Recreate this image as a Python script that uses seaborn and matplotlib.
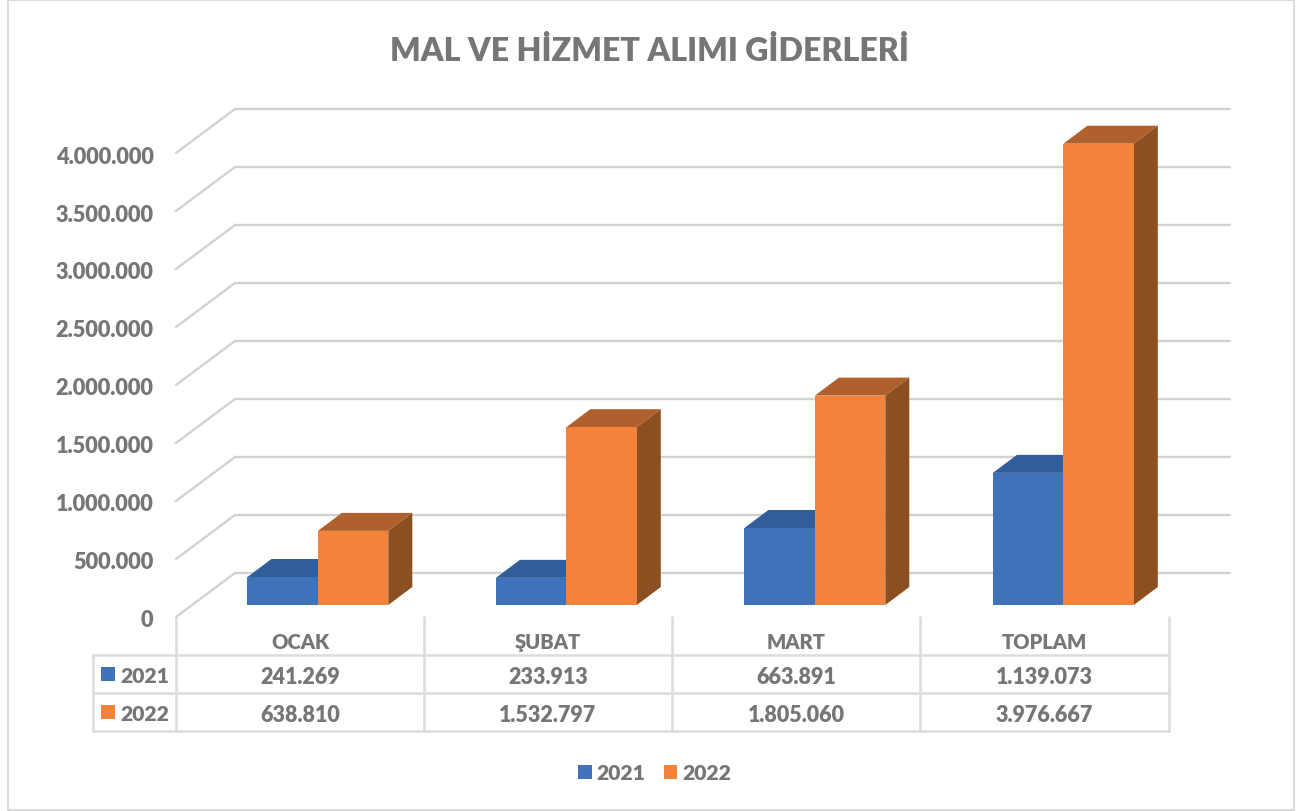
import matplotlib
matplotlib.use('Agg')
import matplotlib.pyplot as plt
import pandas as pd
import seaborn as sns
from matplotlib.patches import Polygon, Rectangle

months = ['OCAK', 'ŞUBAT', 'MART', 'TOPLAM']
years = ['2021', '2022']
values_2021 = [241269, 233913, 663891, 1139073]
values_2022 = [638810, 1532797, 1805060, 3976667]
y_ticks = [0, 500000, 1000000, 1500000, 2000000, 2500000, 3000000, 3500000, 4000000]

front_colors = ['#3f72b9', '#f3833b']
top_colors = ['#335c9a', '#b0602c']
side_colors = ['#2c5083', '#8c4f22']
GRID = '#d2d2d2'
TABLE = '#dcdcdc'
TEXT = '#767676'


def tr_number(v):
    return f'{v:,}'.replace(',', '.')


sns.set_theme(style='white')
plt.rcParams['font.family'] = ['Lato', 'DejaVu Sans']
plt.rcParams['font.weight'] = 'heavy'

W, H = 1298, 812
fig = plt.figure(figsize=(W / 100, H / 100), dpi=100, facecolor='white')

# background layer in picture pixels: frame, walls, table, labels
bg = fig.add_axes([0, 0, 1, 1], zorder=0)
bg.set_xlim(0, W)
bg.set_ylim(H, 0)
bg.axis('off')

# bars layer, value 0 sits on the bar floor
ax = fig.add_axes([193.6 / W, (H - 606) / H, 994 / W, 522 / H], zorder=1)
ax.patch.set_alpha(0)

df = pd.DataFrame({
    'Ay': months * 2,
    'Yıl': [years[0]] * 4 + [years[1]] * 4,
    'Değer': values_2021 + values_2022,
})
sns.barplot(data=df, x='Ay', y='Değer', hue='Yıl', order=months, hue_order=years,
            palette=front_colors, width=0.567, gap=0, saturation=1, ax=ax, zorder=3,
            linewidth=0, edgecolor='none')
ax.set_xlim(-0.5, 3.5)
ax.set_ylim(0, 4500000)
ax.set_xlabel('')
ax.set_ylabel('')
ax.set_xticks([])
ax.set_yticks([])
sns.despine(ax=ax, left=True, bottom=True)


def to_bg(x, y):
    return bg.transData.inverted().transform(ax.transData.transform((x, y)))


# 3D depth of the bars
DX, DY = 24, 18
for i, container in enumerate(ax.containers):
    for rect in container:
        x0, y1 = to_bg(rect.get_x(), rect.get_height())
        x1, y0 = to_bg(rect.get_x() + rect.get_width(), 0)
        top = Polygon([(x0, y1), (x0 + DX, y1 - DY), (x1 + DX, y1 - DY), (x1, y1)],
                      fc=top_colors[i], ec='none', transform=bg.transData,
                      clip_on=False, zorder=2)
        side = Polygon([(x1, y1), (x1 + DX, y1 - DY), (x1 + DX, y0 - DY), (x1, y0)],
                       fc=side_colors[i], ec='none', transform=bg.transData,
                       clip_on=False, zorder=2)
        ax.add_patch(top)
        ax.add_patch(side)

# gridlines run along the side wall and back wall
for v in y_ticks:
    yf = to_bg(0, v)[1] + 12
    bg.plot([176, 235, 1230], [yf, yf - 44, yf - 44], color=GRID, lw=1.7,
            solid_joinstyle='miter')
    bg.text(153.5, yf + 3, tr_number(v), ha='right', va='center', fontsize=15.7,
            color=TEXT)

# data table under the chart
col_x = [176, 424, 672, 920, 1169]
row_y = [656, 694, 732]
for x in col_x:
    bg.plot([x, x], [618, 732], color=TABLE, lw=1.8)
for y in row_y:
    bg.plot([93, 1169], [y, y], color=TABLE, lw=1.8)
bg.plot([93, 93], [656, 732], color=TABLE, lw=1.8)

for i, month in enumerate(months):
    cx = (col_x[i] + col_x[i + 1]) / 2
    bg.text(cx, 643, month, ha='center', va='center', fontsize=14.5, color=TEXT)
    bg.text(cx, 678, tr_number(values_2021[i]), ha='center', va='center',
            fontsize=15.5, color=TEXT)
    bg.text(cx, 716, tr_number(values_2022[i]), ha='center', va='center',
            fontsize=15.5, color=TEXT)

for j, year in enumerate(years):
    yc = (row_y[j] + row_y[j + 1]) / 2
    bg.add_patch(Rectangle((101, yc - 7), 14, 14, fc=front_colors[j], ec='none'))
    bg.text(120, yc + 2, year, ha='left', va='center', fontsize=15.2, color=TEXT)

# outer chart frame
bg.add_patch(Rectangle((7.5, 0.5), 1286, 810.5, fc='none', ec=TABLE, lw=1.5))

bg.text(650, 51, 'MAL VE HİZMET ALIMI GİDERLERİ', ha='center', va='center',
        fontsize=23.15, color=TEXT)

# legend from the seaborn bars
handles, labels = ax.get_legend_handles_labels()
ax.legend(handles, labels, loc='center', bbox_to_anchor=(655 / W, (H - 774) / H),
          bbox_transform=fig.transFigure, ncol=2, frameon=False, fontsize=15.2,
          labelcolor=TEXT, handlelength=0.62, handleheight=0.62, handletextpad=0.25,
          columnspacing=0.88)

fig.savefig('out.png', dpi=100)
